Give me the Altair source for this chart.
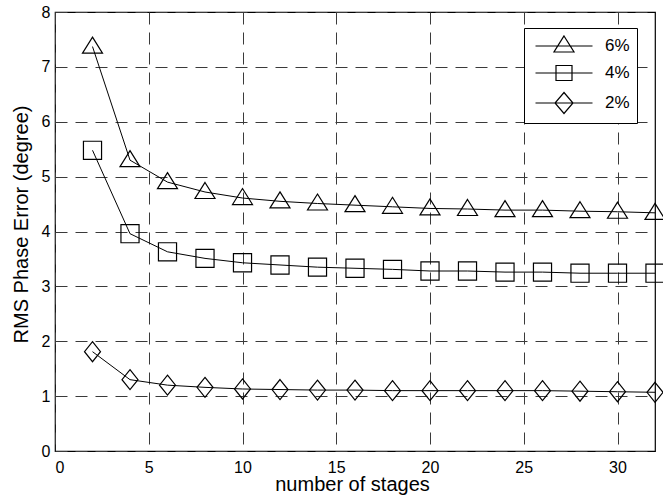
import altair as alt
import pandas as pd

# ---- data ----
stages = [2, 4, 6, 8, 10, 12, 14, 16, 18, 20, 22, 24, 26, 28, 30, 32]
rms_6 = [7.37, 5.30, 4.90, 4.72, 4.61, 4.55, 4.51, 4.48, 4.45, 4.42, 4.41, 4.39, 4.39, 4.37, 4.36, 4.34]
rms_4 = [5.48, 3.96, 3.63, 3.51, 3.43, 3.39, 3.35, 3.33, 3.31, 3.28, 3.28, 3.26, 3.26, 3.24, 3.24, 3.24]
rms_2 = [1.81, 1.30, 1.20, 1.16, 1.13, 1.12, 1.11, 1.11, 1.10, 1.10, 1.10, 1.10, 1.10, 1.09, 1.08, 1.07]
series_labels = ["6%", "4%", "2%"]
x_ticks = [0, 5, 10, 15, 20, 25, 30]
y_ticks = [0, 1, 2, 3, 4, 5, 6, 7, 8]

rows = []
for label, vals in zip(series_labels, [rms_6, rms_4, rms_2]):
    for s, v in zip(stages, vals):
        rows.append({"stages": s, "rms": v, "series": label})
df = pd.DataFrame(rows)

FONT = "Liberation Sans"

# marker shapes (unit box -1..1)
tri = "M0,-0.95L1,0.65L-1,0.65Z"
sq = "M-1,-1H1V1H-1Z"
dia = "M0,-1.25L1,0L0,1.25L-1,0Z"
# legend shapes: marker with a line through it
leg_tri = "M-2.85,0H2.85M0,-1L1,0.6L-1,0.6Z"
leg_sq = "M-2.85,0H2.85M-0.8,-0.75H0.8V0.75H-0.8Z"
leg_dia = "M-2.85,0H2.85M0,-1.05L0.9,0L0,1.05L-0.9,0Z"

x_enc = alt.X(
    "stages:Q",
    scale=alt.Scale(domain=[0, 32], nice=False, zero=False),
    axis=alt.Axis(
        values=x_ticks,
        title="number of stages",
        labelBaseline="alphabetic",
        labelPadding=21,
        titleX=297,
        titleY=39,
        titleAlign="center",
        titleBaseline="alphabetic",
    ),
)
y_enc = alt.Y(
    "rms:Q",
    scale=alt.Scale(domain=[0, 8], nice=False),
    axis=alt.Axis(
        values=y_ticks,
        title="RMS Phase Error (degree)",
        labelPadding=5,
        titleX=-28,
        titleY=212,
        titleAngle=270,
        titleAlign="center",
        titleBaseline="alphabetic",
    ),
)

base = alt.Chart(df)

lines = base.mark_line(color="black", strokeWidth=1).encode(
    x=x_enc, y=y_enc, detail="series:N"
)

points = base.mark_point(filled=False, color="black", strokeWidth=1.2, opacity=1).encode(
    x=x_enc,
    y=y_enc,
    shape=alt.Shape(
        "series:N",
        scale=alt.Scale(domain=series_labels, range=[tri, sq, dia]),
        legend=None,
    ),
    size=alt.Size(
        "series:N",
        scale=alt.Scale(domain=series_labels, range=[400, 256, 289]),
        legend=None,
    ),
)

legend_layer = base.mark_point(filled=False, color="black", strokeWidth=1.2, opacity=0).encode(
    x=x_enc,
    y=y_enc,
    shape=alt.Shape(
        "series:N",
        sort=series_labels,
        scale=alt.Scale(domain=series_labels, range=[leg_tri, leg_sq, leg_dia]),
        legend=alt.Legend(
            title=None,
            orient="none",
            legendX=469,
            legendY=16,
            padding=7,
            strokeColor="black",
            fillColor="white",
            symbolSize=400,
            symbolOpacity=1,
            symbolStrokeColor="black",
            symbolFillColor="transparent",
            symbolStrokeWidth=1.2,
            symbolOffset=22,
            labelOffset=30,
            labelFont=FONT,
            labelFontSize=17,
            labelColor="black",
            labelExpr="datum.label + '   '",
            rowPadding=7,
        ),
    ),
    size=alt.value(400),
)

chart = (
    alt.layer(lines, points, legend_layer)
    .resolve_scale(shape="independent", size="independent")
    .properties(
        width=600,
        height=439,
        padding={"left": 55, "top": 12, "right": 8, "bottom": 48},
        autosize="none",
        background="white",
    )
    .configure_view(stroke="black", strokeWidth=1.2)
    .configure_axis(
        domain=False,
        ticks=False,
        tickSize=0,
        grid=True,
        gridDash=[12, 8],
        gridColor="#3a3a3a",
        gridWidth=1,
        gridOpacity=1,
        labelFont=FONT,
        labelFontSize=16,
        labelColor="black",
        titleFont=FONT,
        titleFontSize=20,
        titleFontWeight="normal",
        titleColor="black",
    )
)

chart.save("out.html", embed_options={"renderer": "svg", "actions": False})
